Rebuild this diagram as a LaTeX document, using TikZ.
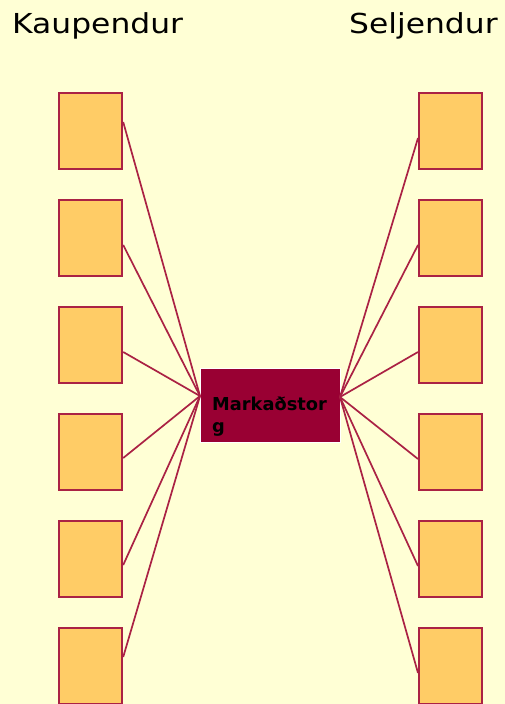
\documentclass[tikz,border=0pt]{standalone}
\usepackage{fontspec}
\setmainfont{DejaVu Sans}
\usetikzlibrary{calc}
\definecolor{bgc}{RGB}{255,255,213}
\definecolor{boxfill}{RGB}{255,204,102}
\definecolor{edgec}{RGB}{170,34,68}
\definecolor{centerfill}{RGB}{153,0,51}
\begin{document}
\begin{tikzpicture}[x=1pt,y=-1pt,
  party/.style={draw=edgec,line width=2.2pt,fill=boxfill,minimum width=63pt,minimum height=76pt,inner sep=0pt,anchor=north west},
  link/.style={draw=edgec,line width=1.7pt},
  heading/.style={anchor=base west,inner sep=0pt,font=\fontsize{27.5}{30}\selectfont}]
\fill[bgc] (0,0) rectangle (505,704);
\useasboundingbox (0,0) rectangle (505,704);
\node[heading] (kh) at (12,33) {\scalebox{1.14}[1]{Kaupendur}};
\node[heading] (sh) at (349,33) {\scalebox{1.14}[1]{Seljendur}};
\node[draw=white,line width=0.8pt,fill=centerfill,minimum width=140pt,minimum height=74pt,inner sep=0pt,anchor=north west] (m) at (200,368) {};
\node[anchor=base west,inner sep=0pt,align=left,font=\bfseries\fontsize{17.8}{22}\selectfont] (mt) at (212,432) {Markaðstor\\g};
\coordinate (cl) at (200,396);
\coordinate (cr) at (340,397);
\foreach \i/\lo in {1/30,2/46,3/46,4/45,5/45,6/30}{
  \node[party] (L\i) at (58,{92+107*(\i-1)}) {};
  \node[party] (R\i) at (418,{92+107*(\i-1)}) {};
  \coordinate (la\i) at ($(L\i.north east)+(0,\lo)$);
  \coordinate (ra\i) at ($(R\i.north west)+(0,46)$);
  \draw[link] (la\i) -- (cl);
  \draw[link] (ra\i) -- (cr);
}
\end{tikzpicture}
\end{document}
